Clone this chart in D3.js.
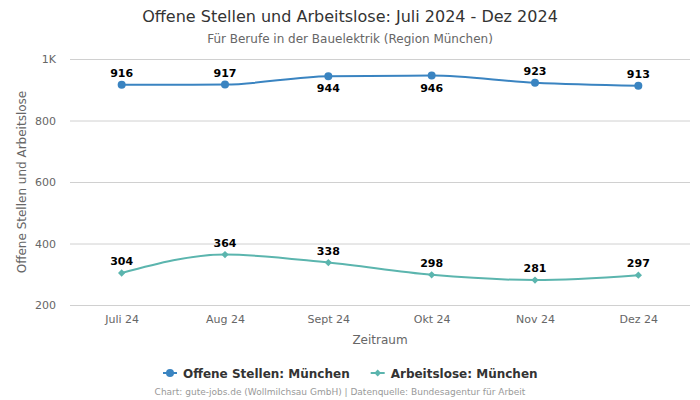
<!DOCTYPE html>
<html><head><meta charset="utf-8">
<script src="https://cdn.jsdelivr.net/npm/d3@7"></script>
<style>body{margin:0;background:#fff}svg{display:block}text{font-family:"DejaVu Sans",sans-serif}</style>
</head><body><svg id="c" width="700" height="400"></svg>
<script>
const categories = ["Juli 24","Aug 24","Sept 24","Okt 24","Nov 24","Dez 24"];
const offeneStellen = [916,917,944,946,923,913];
const arbeitslose = [304,364,338,298,281,297];
const offeneLabelPos = ["above","above","below","below","above","above"];
const yTicks = [200,400,600,800,1000];
const seriesNames = ["Offene Stellen: München","Arbeitslose: München"];

const svg = d3.select("#c");
const pL=70,pR=690,pT=59,pB=305;
const x = d3.scalePoint().domain(categories).range([pL,pR]).padding(0.5);
const y = d3.scaleLinear().domain([200,1000]).range([pB,pT]);

svg.append("text").attr("x",350).attr("y",22).attr("text-anchor","middle")
  .attr("font-size",16).attr("fill","#333").text("Offene Stellen und Arbeitslose: Juli 2024 - Dez 2024");
svg.append("text").attr("x",350).attr("y",43).attr("text-anchor","middle")
  .attr("font-size",12).attr("fill","#666").text("Für Berufe in der Bauelektrik (Region München)");

const ya = svg.append("g").attr("transform",`translate(${pL},0)`)
  .call(d3.axisLeft(y).tickValues(yTicks).tickSize(-(pR-pL)).tickPadding(14)
    .tickFormat(d=>d===1000?"1K":d));
ya.select(".domain").remove();
ya.selectAll("line").attr("stroke","#d0d0d0");
ya.selectAll("text").attr("font-size",11).attr("fill","#666").attr("font-family","DejaVu Sans, sans-serif");

const xa = svg.append("g").attr("transform",`translate(0,${pB})`)
  .call(d3.axisBottom(x).tickSize(0).tickPadding(10));
xa.select(".domain").remove();
xa.selectAll("text").attr("font-size",11).attr("fill","#666").attr("font-family","DejaVu Sans, sans-serif");

svg.append("text").attr("x",380).attr("y",344).attr("text-anchor","middle")
  .attr("font-size",12).attr("fill","#666").text("Zeitraum");
svg.append("text").attr("transform","translate(26,182) rotate(-90)").attr("text-anchor","middle")
  .attr("font-size",12).attr("fill","#666").text("Offene Stellen und Arbeitslose");

const line = d3.line().x((d,i)=>x(categories[i])).y(d=>y(d)).curve(d3.curveMonotoneX);
const blue="#3a84c1", teal="#5bb5ae";
svg.append("path").datum(offeneStellen).attr("d",line).attr("fill","none").attr("stroke",blue).attr("stroke-width",2);
svg.append("path").datum(arbeitslose).attr("d",line).attr("fill","none").attr("stroke",teal).attr("stroke-width",2);

svg.selectAll(".pb").data(offeneStellen).enter().append("circle")
  .attr("cx",(d,i)=>x(categories[i])).attr("cy",d=>y(d)).attr("r",4).attr("fill",blue);
svg.selectAll(".pt").data(arbeitslose).enter().append("path")
  .attr("d",d3.symbol(d3.symbolDiamond2,34)())
  .attr("transform",(d,i)=>`translate(${x(categories[i])},${y(d)})`).attr("fill",teal);

svg.selectAll(".lb").data(offeneStellen).enter().append("text")
  .attr("x",(d,i)=>x(categories[i])).attr("y",(d,i)=>y(d)+(offeneLabelPos[i]==="above"?-8:16))
  .attr("text-anchor","middle").attr("font-size",11).attr("font-weight","bold").attr("fill","#000").text(d=>d);
svg.selectAll(".lt").data(arbeitslose).enter().append("text")
  .attr("x",(d,i)=>x(categories[i])).attr("y",d=>y(d)-8)
  .attr("text-anchor","middle").attr("font-size",11).attr("font-weight","bold").attr("fill","#000").text(d=>d);

// legend
const lg = svg.append("g");
const items=[{n:seriesNames[0],c:blue,s:"circle"},{n:seriesNames[1],c:teal,s:"diamond"}];
let lx=163;
items.forEach((it,k)=>{
  const g=lg.append("g").attr("transform",`translate(${lx},373)`);
  g.append("line").attr("x1",0).attr("x2",14).attr("stroke",it.c).attr("stroke-width",2);
  if(it.s==="circle") g.append("circle").attr("cx",7).attr("r",4).attr("fill",it.c);
  else g.append("path").attr("d",d3.symbol(d3.symbolDiamond2,30)()).attr("transform","translate(7,0)").attr("fill",it.c);
  const t=g.append("text").attr("x",20).attr("y",4.5).attr("font-size",12).attr("font-weight","bold").attr("fill","#333").text(it.n);
  lx += 20 + t.node().getComputedTextLength() + 21;
});
svg.append("text").attr("x",340).attr("y",395).attr("text-anchor","middle")
  .attr("font-size",9).attr("fill","#999").text("Chart: gute-jobs.de (Wollmilchsau GmbH) | Datenquelle: Bundesagentur für Arbeit");
</script></body></html>
